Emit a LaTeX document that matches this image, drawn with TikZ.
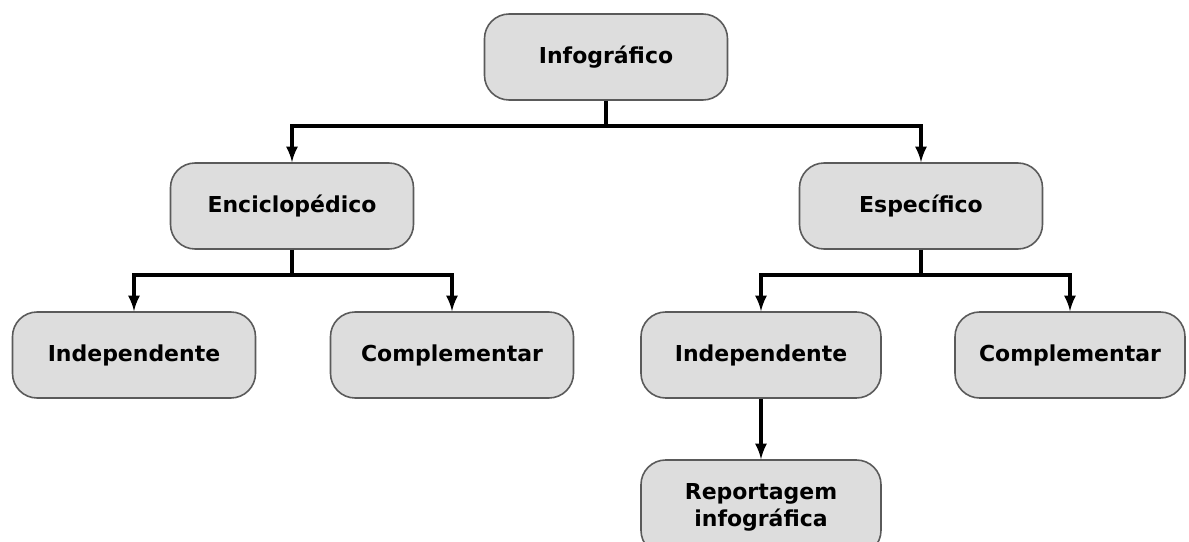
\documentclass[tikz,border=0pt]{standalone}
\usepackage{fontspec}
\setmainfont{DejaVu Sans}
\usepackage{tikz}
\definecolor{boxgray}{RGB}{221,221,221}
\definecolor{edgegray}{RGB}{90,90,90}

\begin{document}
\begin{tikzpicture}[>=latex,
  box/.style={rectangle, rounded corners=14pt, draw=edgegray, line width=0.9pt,
    fill=boxgray, minimum width=4.86cm, minimum height=1.72cm, align=center,
    font=\fontsize{12.5}{15.5}\selectfont\bfseries},
  link/.style={->, line width=2pt, black}]
  \useasboundingbox (0,0) rectangle (23.78,10.82);

%top
\node[box] (p0) at (12.12,9.68) {Infográfico};

\node[box] (p1) at (5.84,6.70) {Enciclopédico};
\node[box] (p2) at (18.42,6.70) {Específico};

\node[box] (p1_a) at (2.68,3.72) {Independente};
\node[box] (p1_b) at (9.04,3.72) {Complementar};
\node[box, minimum width=4.8cm] (p2_a) at (15.22,3.72) {Independente};
\node[box, minimum width=4.6cm] (p2_b) at (21.40,3.72) {Complementar};

\node[box, minimum width=4.8cm, minimum height=1.9cm] (p2_c) at (15.22,0.67) {Reportagem\\infográfica};

\draw[link] (p0.south) -- ++(0,-0.5) -| (p1.north);
\draw[link] (p0.south) -- ++(0,-0.5) -| (p2.north);

\draw[link] (p1.south) -- ++(0,-0.5) -| (p1_a.north);
\draw[link] (p1.south) -- ++(0,-0.5) -| (p1_b.north);

\draw[link] (p2.south) -- ++(0,-0.5) -| (p2_a.north);
\draw[link] (p2.south) -- ++(0,-0.5) -| (p2_b.north);

\draw[link] (p2_a) -- (p2_c);
\end{tikzpicture}
\end{document}
